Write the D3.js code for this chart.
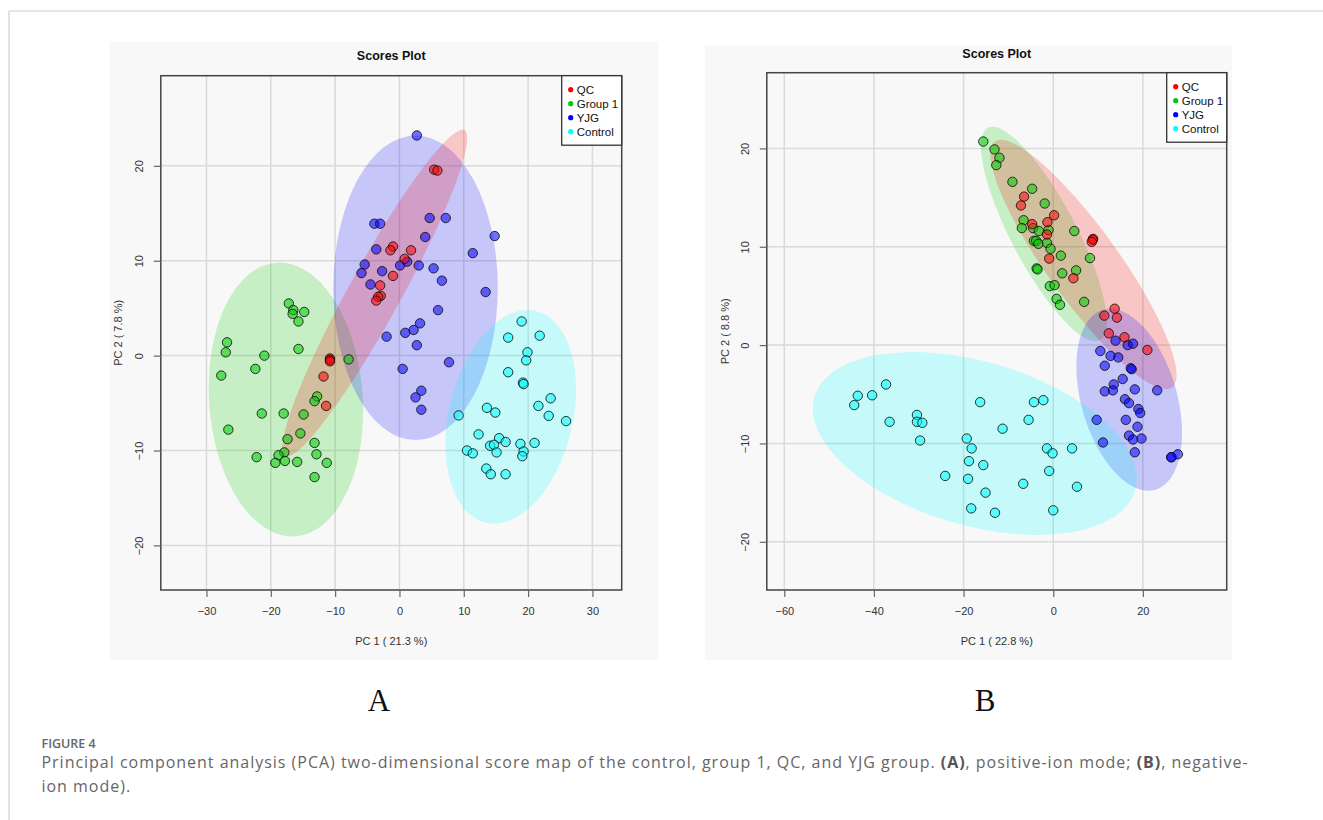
<!DOCTYPE html>
<html>
<head>
<meta charset="utf-8">
<script src="https://cdn.jsdelivr.net/npm/d3@7"></script>
<style>
  html, body { margin: 0; padding: 0; background: #fff; }
  svg { display: block; }
</style>
</head>
<body>
<svg id="fig" width="1323" height="820"></svg>
<script>
// group names, legend order
var groups = ['QC', 'Group 1', 'YJG', 'Control'];
var groupColors = ['#ff0000', '#00cc00', '#0000ff', '#00ffff'];

// panel A (positive-ion mode) scores
var qcA = [[5.4, 19.6], [5.9, 19.5], [-1.0, 11.5], [-1.4, 11.1], [1.8, 11.1], [0.8, 10.2], [-1.0, 8.4],
  [-3.0, 7.4], [-2.9, 6.3], [-3.3, 6.2], [-3.6, 5.8], [-10.8, -0.3], [-10.8, -0.45], [-10.8, -0.6],
  [-11.8, -2.2], [-11.4, -5.3]];
var group1A = [[-17.2, 5.5], [-16.5, 4.8], [-16.6, 4.4], [-14.8, 4.6], [-15.7, 3.6], [-15.7, 0.7],
  [-26.8, 1.4], [-27.0, 0.35], [-21.0, 0], [-7.9, -0.4], [-22.4, -1.4], [-27.7, -2.1], [-12.8, -4.3],
  [-13.2, -4.8], [-21.4, -6.1], [-18.0, -6.1], [-14.9, -6.2], [-26.6, -7.8], [-15.4, -8.2], [-17.4, -8.8],
  [-13.2, -9.2], [-17.9, -10.2], [-12.9, -10.4], [-18.8, -10.5], [-22.2, -10.7], [-17.8, -11.1],
  [-19.3, -11.3], [-15.9, -11.2], [-11.3, -11.3], [-13.2, -12.8]];
var yjgA = [[2.7, 23.2], [-3.9, 13.9], [-3.0, 13.9], [4.7, 14.5], [7.2, 14.5], [4.0, 12.5], [14.8, 12.6],
  [-3.6, 11.2], [11.4, 10.8], [-5.4, 9.6], [-5.9, 8.7], [-2.7, 8.9], [0.1, 9.5], [1.2, 9.9], [3.0, 9.5],
  [5.3, 9.2], [6.6, 7.9], [-4.5, 7.5], [13.4, 6.7], [6.0, 4.8], [3.2, 3.4], [2.2, 2.7], [0.9, 2.4],
  [-2.0, 2.0], [2.7, 1.1], [7.7, -0.7], [0.5, -1.4], [3.4, -3.7], [2.5, -4.4], [3.4, -5.7]];
var controlA = [[19.0, 3.6], [21.8, 2.1], [16.9, 1.9], [19.9, 0.35], [19.7, -0.5], [16.9, -1.75],
  [19.2, -2.85], [19.3, -3.0], [23.5, -4.5], [21.6, -5.3], [23.2, -6.35], [25.9, -6.9], [13.6, -5.5],
  [14.9, -6.0], [9.2, -6.3], [12.3, -8.3], [15.5, -8.7], [14.1, -9.5], [14.7, -9.4], [16.5, -9.1],
  [18.8, -9.3], [21.0, -9.2], [15.1, -10.2], [19.3, -10.1], [19.1, -10.6], [10.5, -10.0], [11.4, -10.3],
  [13.5, -11.9], [14.2, -12.5], [16.5, -12.5]];

// panel B (negative-ion mode) scores
var qcB = [[-6.5, 15.1], [-7.2, 14.2], [0.2, 13.2], [-1.3, 12.5], [-4.7, 12.3], [-1.4, 11.25], [-0.9, 8.8],
  [8.9, 10.8], [8.8, 10.7], [8.6, 10.5], [4.5, 6.8], [13.7, 3.7], [11.4, 3.0], [14.2, 2.8], [12.4, 1.2],
  [15.9, 0.8], [21.0, -0.5]];
var group1B = [[-15.6, 20.7], [-13.1, 19.9], [-12.0, 19.05], [-12.7, 18.3], [-9.1, 16.6], [-4.7, 15.9],
  [-1.9, 14.4], [-6.6, 12.7], [-7.0, 11.9], [-4.5, 11.9], [-3.2, 11.6], [-1.05, 11.7], [4.7, 11.6],
  [-4.3, 10.6], [-3.8, 10.6], [-3.3, 10.3], [-1.4, 10.4], [-0.6, 9.8], [1.7, 9.1], [8.2, 8.85],
  [-3.7, 7.8], [-3.5, 7.7], [2.0, 7.3], [5.1, 7.6], [-0.75, 6.0], [0.3, 6.1], [0.75, 4.7], [1.5, 4.1],
  [6.9, 4.4]];
var yjgB = [[13.9, 0.45], [16.6, 0], [17.8, 0.14], [10.5, -0.6], [12.8, -1.1], [14.5, -1.25], [11.5, -2.1],
  [17.3, -2.35], [17.5, -2.45], [15.5, -3.45], [13.5, -4.0], [11.5, -4.7], [13.3, -4.6], [18.2, -4.5],
  [23.2, -4.6], [16.0, -5.5], [16.9, -5.9], [19.0, -6.5], [19.4, -6.9], [9.7, -7.6], [16.2, -7.6],
  [18.8, -8.3], [16.9, -9.2], [17.8, -9.6], [19.7, -9.5], [11.1, -9.9], [18.2, -10.9], [26.3, -11.4],
  [26.4, -11.4], [27.8, -11.1]];
var controlB = [[-37.3, -4.0], [-43.6, -5.15], [-40.4, -5.1], [-44.4, -6.1], [-36.5, -7.8], [-30.4, -7.1],
  [-30.4, -7.8], [-29.2, -7.9], [-29.7, -9.7], [-16.3, -5.8], [-11.3, -8.5], [-4.3, -5.8], [-2.2, -5.6],
  [-5.5, -7.6], [-19.3, -9.5], [-18.2, -10.5], [-18.8, -11.8], [-15.6, -12.2], [-24.1, -13.3],
  [-19.0, -13.6], [-6.7, -14.1], [-15.1, -15.0], [5.3, -14.4], [-1.4, -10.5], [-0.15, -11.0],
  [4.2, -10.5], [-0.9, -12.8], [-18.3, -16.6], [-13.0, -17.05], [0.0, -16.8]];

// 95% ellipses: two ends of the long axis (data units) and short/long ratio
var ellipsesA = [
  { group: 'Group 1', tips: [[-19.1, 9.8], [-16.2, -19.05]], ratio: 0.56 },
  { group: 'YJG', tips: [[2.5, 23.2], [2.5, -8.9]], ratio: 0.54 },
  { group: 'Control', tips: [[21.2, 4.7], [13.4, -17.6]], ratio: 0.57 },
  { group: 'QC', tips: [[10.1, 23.75], [-17.8, -10.6]], ratio: 0.14 }
];
var ellipsesB = [
  { group: 'Group 1', tips: [[-14.6, 22.1], [10.4, 0.5]], ratio: 0.27 },
  { group: 'QC', tips: [[-13.0, 20.7], [26.5, -4.3]], ratio: 0.235 },
  { group: 'YJG', tips: [[11.1, 3.6], [22.8, -14.7]], ratio: 0.51 },
  { group: 'Control', tips: [[-53.3, -5.25], [18.3, -14.75]], ratio: 0.49 }
];

var ticksXA = [-30, -20, -10, 0, 10, 20, 30];
var ticksYA = [-20, -10, 0, 10, 20];
var ticksXB = [-60, -40, -20, 0, 20];
var ticksYB = [-20, -10, 0, 10, 20];

var svg = d3.select('#fig');
var color = d3.scaleOrdinal().domain(groups).range(groupColors);

// page frame
svg.append('line').attr('x1', 9).attr('y1', 11).attr('x2', 1323).attr('y2', 11)
  .attr('stroke', '#cfcfcf').attr('stroke-width', 1.2);
svg.append('line').attr('x1', 9).attr('y1', 11).attr('x2', 9).attr('y2', 820)
  .attr('stroke', '#cfcfcf').attr('stroke-width', 1.2);

function drawPanel(p) {
  var g = svg.append('g');

  g.append('rect')
    .attr('x', p.bg[0]).attr('y', p.bg[1]).attr('width', p.bg[2]).attr('height', p.bg[3])
    .attr('fill', '#f8f8f8');

  var x = d3.scaleLinear().domain(p.xDomain).range([p.left, p.right]);
  var y = d3.scaleLinear().domain(p.yDomain).range([p.bottom, p.top]);

  // grid
  g.append('g').selectAll('line').data(p.xTicks).enter().append('line')
    .attr('x1', function (d) { return x(d); }).attr('x2', function (d) { return x(d); })
    .attr('y1', p.top).attr('y2', p.bottom)
    .attr('stroke', '#dadada').attr('stroke-width', 1.5);
  g.append('g').selectAll('line').data(p.yTicks).enter().append('line')
    .attr('y1', function (d) { return y(d); }).attr('y2', function (d) { return y(d); })
    .attr('x1', p.left).attr('x2', p.right)
    .attr('stroke', '#dadada').attr('stroke-width', 1.5);

  // ellipses
  g.append('g').selectAll('ellipse').data(p.ellipses).enter().append('ellipse')
    .each(function (d) {
      var x1 = x(d.tips[0][0]), y1 = y(d.tips[0][1]);
      var x2 = x(d.tips[1][0]), y2 = y(d.tips[1][1]);
      var cx = (x1 + x2) / 2, cy = (y1 + y2) / 2;
      var a = Math.sqrt((x2 - x1) * (x2 - x1) + (y2 - y1) * (y2 - y1)) / 2;
      var ang = Math.atan2(y2 - y1, x2 - x1) * 180 / Math.PI;
      d3.select(this)
        .attr('cx', 0).attr('cy', 0).attr('rx', a).attr('ry', a * d.ratio)
        .attr('transform', 'translate(' + cx + ',' + cy + ') rotate(' + ang + ')');
    })
    .attr('fill', function (d) { return color(d.group); })
    .attr('fill-opacity', 0.2);

  // points
  p.series.forEach(function (s) {
    g.append('g').selectAll('circle').data(s.values).enter().append('circle')
      .attr('cx', function (d) { return x(d[0]); })
      .attr('cy', function (d) { return y(d[1]); })
      .attr('r', 4.7)
      .attr('fill', color(s.group))
      .attr('fill-opacity', 0.55)
      .attr('stroke', '#111')
      .attr('stroke-opacity', 0.85)
      .attr('stroke-width', 1);
  });

  // box
  g.append('rect')
    .attr('x', p.left).attr('y', p.top)
    .attr('width', p.right - p.left).attr('height', p.bottom - p.top)
    .attr('fill', 'none').attr('stroke', '#444').attr('stroke-width', 1.5);

  // axes
  var xAxis = g.append('g').attr('transform', 'translate(0,' + p.bottom + ')')
    .call(d3.axisBottom(x).tickValues(p.xTicks).tickSize(7).tickPadding(10));
  var yAxis = g.append('g').attr('transform', 'translate(' + p.left + ',0)')
    .call(d3.axisLeft(y).tickValues(p.yTicks).tickSize(7).tickPadding(6));
  [xAxis, yAxis].forEach(function (ax) {
    ax.select('.domain').remove();
    ax.selectAll('.tick line').attr('stroke', '#666').attr('stroke-width', 1.2);
    ax.selectAll('.tick text').attr('fill', '#333')
      .attr('font-family', 'Liberation Sans, Arial, sans-serif').attr('font-size', 11);
  });
  yAxis.selectAll('.tick text')
    .attr('x', null).attr('dy', null)
    .attr('text-anchor', 'middle')
    .attr('transform', 'translate(' + (p.yLabelX - p.left) + ',0) rotate(-90)')
    .attr('y', 0);

  // titles
  g.append('text')
    .attr('x', (p.left + p.right) / 2).attr('y', p.titleY)
    .attr('text-anchor', 'middle')
    .attr('font-family', 'Liberation Sans, Arial, sans-serif')
    .attr('font-size', 12.5).attr('font-weight', 'bold').attr('fill', '#111')
    .text('Scores Plot');
  g.append('text')
    .attr('x', (p.left + p.right) / 2).attr('y', 645)
    .attr('text-anchor', 'middle')
    .attr('font-family', 'Liberation Sans, Arial, sans-serif')
    .attr('font-size', 11).attr('fill', '#333')
    .text(p.xTitle);
  g.append('text')
    .attr('transform', 'translate(' + p.yTitleX + ',' + ((p.top + p.bottom) / 2) + ') rotate(-90)')
    .attr('text-anchor', 'middle')
    .attr('font-family', 'Liberation Sans, Arial, sans-serif')
    .attr('font-size', 11).attr('fill', '#333')
    .text(p.yTitle);

  // legend
  var lg = g.append('g');
  lg.append('rect')
    .attr('x', p.right - p.legendW).attr('y', p.top)
    .attr('width', p.legendW).attr('height', 69.5)
    .attr('fill', '#fff').attr('stroke', '#333').attr('stroke-width', 1.3);
  var item = lg.selectAll('g').data(groups).enter().append('g')
    .attr('transform', function (d, i) {
      return 'translate(' + (p.right - p.legendW + 9) + ',' + (p.top + 14 + i * 14) + ')';
    });
  item.append('circle').attr('r', 2.6).attr('fill', function (d) { return color(d); });
  item.append('text').attr('x', 6).attr('dy', '0.35em')
    .attr('font-family', 'Liberation Sans, Arial, sans-serif')
    .attr('font-size', 11.5).attr('fill', '#111')
    .text(function (d) { return d; });

  // panel letter
  g.append('text')
    .attr('x', p.letterX).attr('y', 711)
    .attr('text-anchor', 'middle')
    .attr('font-family', 'Liberation Serif, Times New Roman, serif')
    .attr('font-size', 31).attr('fill', '#111')
    .text(p.letter);
}

drawPanel({
  bg: [110, 42, 548, 618],
  left: 160.8, right: 621.7, top: 75.7, bottom: 590,
  xDomain: [-37.1, 34.55], yDomain: [-24.7, 29.5],
  xTicks: ticksXA, yTicks: ticksYA,
  yLabelX: 143.3, yTitleX: 121.5, titleY: 59.5,
  xTitle: 'PC 1 ( 21.3 %)', yTitle: 'PC 2 ( 7.8 %)',
  legendW: 60,
  ellipses: ellipsesA,
  series: [
    { group: 'Group 1', values: group1A },
    { group: 'YJG', values: yjgA },
    { group: 'Control', values: controlA },
    { group: 'QC', values: qcA }
  ],
  letter: 'A', letterX: 379
});

drawPanel({
  bg: [705, 45, 527, 615],
  left: 766.8, right: 1226.7, top: 72.7, bottom: 590,
  xDomain: [-63.9, 38.7], yDomain: [-24.9, 27.7],
  xTicks: ticksXB, yTicks: ticksYB,
  yLabelX: 748.9, yTitleX: 729, titleY: 57.5,
  xTitle: 'PC 1 ( 22.8 %)', yTitle: 'PC 2 ( 8.8 %)',
  legendW: 60,
  ellipses: ellipsesB,
  series: [
    { group: 'Group 1', values: group1B },
    { group: 'YJG', values: yjgB },
    { group: 'Control', values: controlB },
    { group: 'QC', values: qcB }
  ],
  letter: 'B', letterX: 985
});

// caption
svg.append('text')
  .attr('x', 41.5).attr('y', 747.5)
  .attr('font-family', 'Open Sans, sans-serif').attr('font-weight', 600)
  .attr('font-size', 12.5).attr('fill', '#666')
  .text('FIGURE 4');

var line1 = 'Principal component analysis (PCA) two-dimensional score map of the control, group 1, QC, and YJG group. ';
var cap1 = svg.append('text')
  .attr('x', 41.5).attr('y', 768)
  .attr('font-family', 'Open Sans, sans-serif')
  .attr('font-size', 16).attr('fill', '#666');
cap1.append('tspan').text(line1);
cap1.append('tspan').attr('font-weight', 'bold').attr('fill', '#555').text('(A)');
cap1.append('tspan').text(', positive-ion mode; ');
cap1.append('tspan').attr('font-weight', 'bold').attr('fill', '#555').text('(B)');
cap1.append('tspan').text(', negative-');

// stretch the first line to the reference width with a little letter spacing
var nChars = (line1 + '(A), positive-ion mode; (B), negative-').length;
var spacing = Math.max(0, (1207 - cap1.node().getComputedTextLength()) / nChars);
cap1.attr('letter-spacing', spacing);

svg.append('text')
  .attr('x', 41.5).attr('y', 792)
  .attr('font-family', 'Open Sans, sans-serif')
  .attr('font-size', 16).attr('fill', '#666')
  .attr('letter-spacing', spacing)
  .text('ion mode).');
</script>
</body>
</html>
